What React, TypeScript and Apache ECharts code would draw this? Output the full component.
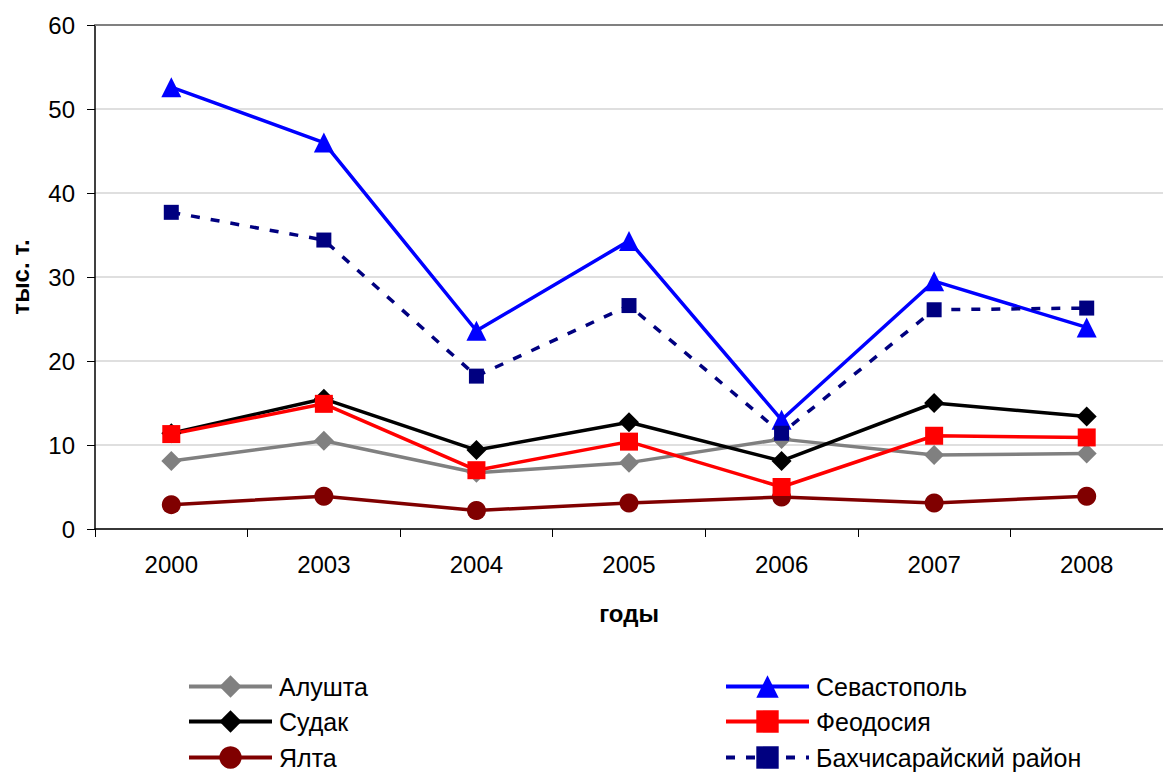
import React, { useEffect, useRef } from "react";
import * as echarts from "echarts";

const years = ["2000", "2003", "2004", "2005", "2006", "2007", "2008"];
const alushta = [8.1, 10.5, 6.7, 7.9, 10.7, 8.8, 9.0];
const sudak = [11.4, 15.5, 9.4, 12.7, 8.1, 15.0, 13.4];
const yalta = [2.9, 3.9, 2.2, 3.1, 3.8, 3.1, 3.9];
const sevastopol = [52.6, 46.0, 23.6, 34.3, 13.0, 29.5, 24.0];
const feodosia = [11.3, 14.9, 7.0, 10.4, 5.0, 11.1, 10.9];
const bakhchisaray = [37.7, 34.4, 18.2, 26.6, 11.4, 26.1, 26.3];

const FONT = "Liberation Sans, Arial, sans-serif";

const legendPos: [string, number, number][] = [
  ["Алушта", 187, 688],
  ["Судак", 187, 723],
  ["Ялта", 187, 759],
  ["Севастополь", 724, 688],
  ["Феодосия", 724, 723],
  ["Бахчисарайский район", 724, 759],
];

export default function App() {
  const ref = useRef<HTMLDivElement>(null);
  useEffect(() => {
    document.body.style.margin = "0";
    const chart = echarts.init(ref.current!, undefined, { renderer: "svg" });
    const mk = (name: string, data: number[], color: string, symbol: string, size: number, dashed = false) => ({
      name,
      type: "line",
      data,
      symbol,
      symbolSize: size,
      showSymbol: true,
      itemStyle: { color, borderWidth: 0 },
      lineStyle: { color, width: 3.5, type: dashed ? [9, 11] : "solid" },
      z: 3,
    });
    chart.setOption({
      animation: false,
      textStyle: { fontFamily: FONT },
      grid: { left: 94, top: 25, width: 1078, height: 504, containLabel: false },
      xAxis: [
        {
          type: "category",
          data: years,
          boundaryGap: true,
          axisLine: { lineStyle: { color: "#000", width: 1.5 } },
          axisTick: { show: true, length: 8, alignWithLabel: false, lineStyle: { color: "#000" } },
          axisLabel: { color: "#000", fontSize: 24, margin: 23, fontFamily: FONT },
          name: "годы",
          nameLocation: "middle",
          nameGap: 72,
          nameTextStyle: { color: "#000", fontSize: 24, fontWeight: "bold", fontFamily: FONT },
          splitLine: { show: false },
        },
        {
          type: "category",
          data: years,
          position: "top",
          axisLine: { lineStyle: { color: "#808080", width: 2 } },
          axisTick: { show: false },
          axisLabel: { show: false },
          splitLine: { show: false },
        },
      ],
      yAxis: {
        type: "value",
        min: 0,
        max: 60,
        interval: 10,
        axisLine: { show: true, lineStyle: { color: "#000", width: 1.5 } },
        axisTick: { show: true, length: 8, lineStyle: { color: "#000" } },
        axisLabel: { color: "#000", fontSize: 24, margin: 20, fontFamily: FONT },
        splitLine: { show: true, lineStyle: { color: "#d4d4d4", width: 1.5 } },
        name: "тыс. т.",
        nameLocation: "middle",
        nameGap: 63,
        nameTextStyle: { color: "#000", fontSize: 24, fontWeight: "bold", fontFamily: FONT },
      },
      legend: legendPos.map(([name, x, y]) => ({
        left: x,
        top: y - 14,
        padding: 0,
        itemWidth: 83,
        itemHeight: 28,
        lineStyle: { width: 4 },
        textStyle: { color: "#000", fontSize: 25, fontFamily: FONT, padding: [0, 0, 0, 2] },
        data: [name],
      })),
      series: [
        mk("Алушта", alushta, "#808080", "diamond", 20),
        mk("Судак", sudak, "#000000", "diamond", 20),
        mk("Ялта", yalta, "#800000", "circle", 19),
        mk("Севастополь", sevastopol, "#0000ff", "triangle", 20),
        mk("Феодосия", feodosia, "#ff0000", "rect", 18),
        mk("Бахчисарайский район", bakhchisaray, "#000080", "rect", 15, true),
      ],
    });
    return () => chart.dispose();
  }, []);
  return <div ref={ref} style={{ width: 1163, height: 774 }} />;
}
